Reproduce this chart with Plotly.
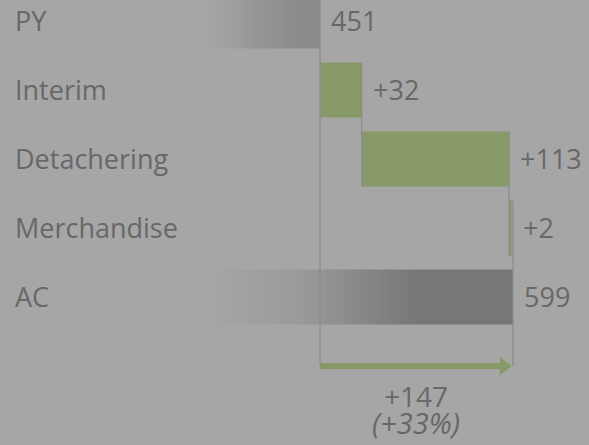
import plotly.graph_objects as go

# ---- data ----
categories = ["PY", "Interim", "Detachering", "Merchandise", "AC"]
py_value = 451
delta_values = [32, 113, 2]          # Interim, Detachering, Merchandise
ac_value = 599
delta_labels = ["+32", "+113", "+2"]
total_label = "+147"
pct_label = "(+33%)"

# ---- style / layout constants ----
W, H = 589, 445
BG = "#a6a6a6"
TXT = "#686868"
GREEN = "#869966"
AC_GRAY = "#777777"
PY_GRAY = "#8b8b8b"
LINE = "#8d8d8d"
FONT = "Open Sans"
FS = 27
X_RANGE = [205.6, 657.3]
Y_RANGE = [6.145, -0.304]
BAR_H = 0.8
half = BAR_H / 2
k = W / (X_RANGE[1] - X_RANGE[0])  # px per value unit

rows = list(range(len(categories)))
arrow_row = len(categories)

# cumulative
starts = []
ends = []
cur = py_value
for d in delta_values:
    starts.append(cur)
    cur += d
    ends.append(cur)

fig = go.Figure()


def total_bar(value, row, color, g_start, g_stop):
    x0 = 0
    fig.add_trace(go.Scatter(
        x=[x0, value, value, x0, x0],
        y=[row - half, row - half, row + half, row + half, row - half],
        mode="lines", fill="toself",
        line=dict(width=0, color="rgba(0,0,0,0)"),
        fillgradient=dict(type="horizontal", start=g_start, stop=g_stop,
                          colorscale=[[0, BG], [0.45, "#9a9a9a"], [1, color]]),
        hoverinfo="skip", showlegend=False,
    ))


total_bar(py_value, 0, PY_GRAY, 363, 432)
total_bar(ac_value, 4, AC_GRAY, 363, 525)

# delta bars
fig.add_trace(go.Bar(
    y=rows[1:4], x=delta_values, base=starts, orientation="h",
    width=BAR_H, marker=dict(color=GREEN, line=dict(width=0)),
    hoverinfo="skip", showlegend=False,
))

# connector lines
conn = [
    (py_value, 0 - half, arrow_row),
    (ends[0], 1 - half, 2 + half),
    (ends[1], 2 - half, 3 + half),
    (ac_value, 3 - half, arrow_row),
]
for xv, y0, y1 in conn:
    fig.add_trace(go.Scatter(
        x=[xv, xv], y=[y0, y1], mode="lines",
        line=dict(color=LINE, width=1.3),
        hoverinfo="skip", showlegend=False,
    ))

# arrow
head_r = 8.0
tip_off = head_r * 2 / 3 ** 0.5
fig.add_trace(go.Scatter(
    x=[py_value, ac_value - (tip_off + 2) / k], y=[arrow_row, arrow_row],
    mode="lines", line=dict(color=GREEN, width=6),
    hoverinfo="skip", showlegend=False,
))
fig.add_trace(go.Scatter(
    x=[ac_value - tip_off / k], y=[arrow_row], mode="markers",
    marker=dict(symbol="triangle-right", size=2 * head_r, color=GREEN,
                line=dict(width=0)),
    hoverinfo="skip", showlegend=False,
))

font = dict(family=FONT, size=FS, color=TXT)
ann = []
for i, c in enumerate(categories):
    ann.append(dict(x=13 / W, xref="paper", y=i, yref="y", text=c,
                    xanchor="left", yanchor="middle", showarrow=False, font=font))
# value labels
val_x = [py_value] + ends + [ac_value]
val_t = [str(py_value)] + delta_labels + [str(ac_value)]
for i, (xv, t) in enumerate(zip(val_x, val_t)):
    ann.append(dict(x=xv, y=i, text=t, xanchor="left", yanchor="middle",
                    xshift=9, showarrow=False, font=font))
mid = (py_value + ac_value) / 2
ann.append(dict(x=mid, y=arrow_row, text=total_label, xanchor="center",
                yanchor="middle", yshift=-30, showarrow=False,
                font=dict(family=FONT, size=28, color=TXT)))
ann.append(dict(x=mid, y=arrow_row, text="<i>" + pct_label + "</i>",
                xanchor="center", yanchor="middle", yshift=-57,
                showarrow=False, font=dict(family=FONT, size=29, color=TXT)))

fig.update_layout(
    width=W, height=H, margin=dict(l=0, r=0, t=0, b=0),
    paper_bgcolor=BG, plot_bgcolor=BG,
    xaxis=dict(range=X_RANGE, visible=False, fixedrange=True),
    yaxis=dict(range=Y_RANGE, visible=False, fixedrange=True),
    annotations=ann, barmode="overlay",
)
fig.write_html(
    "out.html",
    config={"displayModeBar": False},
    post_script="document.body.style.margin='0';document.body.style.overflow='hidden';",
)
